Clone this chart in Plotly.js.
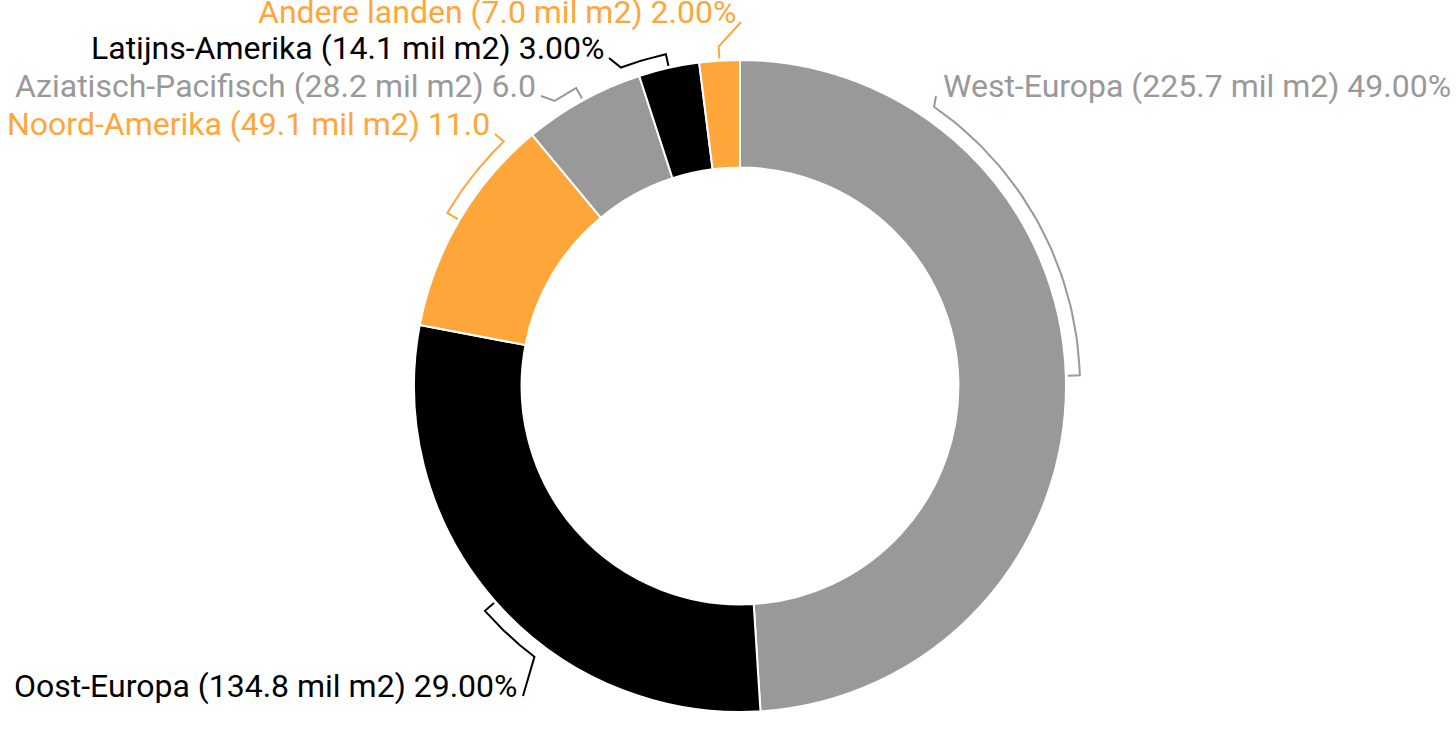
<!DOCTYPE html>
<html><head><meta charset="utf-8">
<script src="https://cdn.plot.ly/plotly-3.0.1.min.js"></script>
<style>html,body{margin:0;padding:0;background:#fff;overflow:hidden}</style>
</head><body>
<div id="chart" style="width:1456px;height:738px"></div>
<script>
// ---- data ----
const regions = ['West-Europa','Oost-Europa','Noord-Amerika','Aziatisch-Pacifisch','Latijns-Amerika','Andere landen'];
const areas = [225.7, 134.8, 49.1, 28.2, 14.1, 7.0];          // mil m2
const shares = [49, 29, 11, 6, 3, 2];                          // %
const labelTexts = [
  'West-Europa (225.7 mil m2) 49.00%',
  'Oost-Europa (134.8 mil m2) 29.00%',
  'Noord-Amerika (49.1 mil m2) 11.0',
  'Aziatisch-Pacifisch (28.2 mil m2) 6.0',
  'Latijns-Amerika (14.1 mil m2) 3.00%',
  'Andere landen (7.0 mil m2) 2.00%'
];
const colors = ['#999999','#000000','#FFA63B','#999999','#000000','#FFA63B'];

// ---- layout settings ----
const W = 1456, H = 738, CX = 740, CY = 386, R = 326, HOLE = 0.67;
const RA = R + 14; // connector arc radius
const labelPlacement = [
  {ang: 34.8,  x: 941, y: 86,  side: 'left'},
  {ang: 217.2, x: 520, y: 686, side: 'right'},
  {ang: 316,   x: 492, y: 124, side: 'right'},
  {ang: 327,   x: 538, y: 86,  side: 'right'},
  {ang: 339.5, x: 606, y: 48,  side: 'right'},
  {ang: null,  x: 738, y: 12,  side: 'right'}
];

function pt(r, deg) {
  const a = deg * Math.PI / 180;
  return [CX + r * Math.sin(a), CY - r * Math.cos(a)];
}

const total = shares.reduce((s, v) => s + v, 0);
let cum = 0;
const traces = [];
const annotations = [];
shares.forEach((v, i) => {
  const start = cum / total * 360;
  cum += v;
  const end = cum / total * 360;
  const mid = (start + end) / 2;
  const lp = labelPlacement[i];
  const xs = [], ys = [];
  let p = pt(R + 2, mid); xs.push(p[0]); ys.push(p[1]);
  p = pt(RA, mid); xs.push(p[0]); ys.push(p[1]);
  if (lp.ang !== null) {
    const n = 40;
    for (let k = 1; k <= n; k++) {
      const a = mid + (lp.ang - mid) * k / n;
      p = pt(RA, a); xs.push(p[0]); ys.push(p[1]);
    }
  }
  xs.push(lp.side === 'left' ? lp.x - 5 : lp.x + 3);
  ys.push(lp.y + 10);
  traces.push({
    type: 'scatter', mode: 'lines', x: xs, y: ys,
    line: {color: colors[i], width: 2}, hoverinfo: 'skip', showlegend: false,
    xaxis: 'x', yaxis: 'y'
  });
  annotations.push({
    x: lp.x, y: lp.y, xref: 'x', yref: 'y',
    xanchor: lp.side === 'left' ? 'left' : 'right', yanchor: 'middle',
    text: labelTexts[i], showarrow: false,
    font: {family: 'Roboto', size: 32, color: colors[i]}
  });
});

traces.unshift({
  type: 'pie',
  labels: regions, values: shares,
  customdata: areas,
  sort: false, direction: 'clockwise', rotation: 0,
  hole: HOLE,
  marker: {colors: colors, line: {color: '#ffffff', width: 2}},
  textinfo: 'none',
  hovertemplate: '%{label} (%{customdata:.1f} mil m2) %{value:.2f}%<extra></extra>',
  domain: {x: [(CX - R) / W, (CX + R) / W], y: [(H - CY - R) / H, (H - CY + R) / H]},
  showlegend: false
});

const layout = {
  width: W, height: H, autosize: false,
  margin: {l: 0, r: 0, t: 0, b: 0, pad: 0},
  paper_bgcolor: '#ffffff', plot_bgcolor: 'rgba(0,0,0,0)',
  showlegend: false,
  font: {family: 'Roboto'},
  xaxis: {range: [0, W], visible: false, fixedrange: true, domain: [0, 1]},
  yaxis: {range: [H, 0], visible: false, fixedrange: true, domain: [0, 1]},
  annotations: annotations
};

Plotly.newPlot('chart', traces, layout, {displayModeBar: false, staticPlot: true});
</script>
</body></html>
